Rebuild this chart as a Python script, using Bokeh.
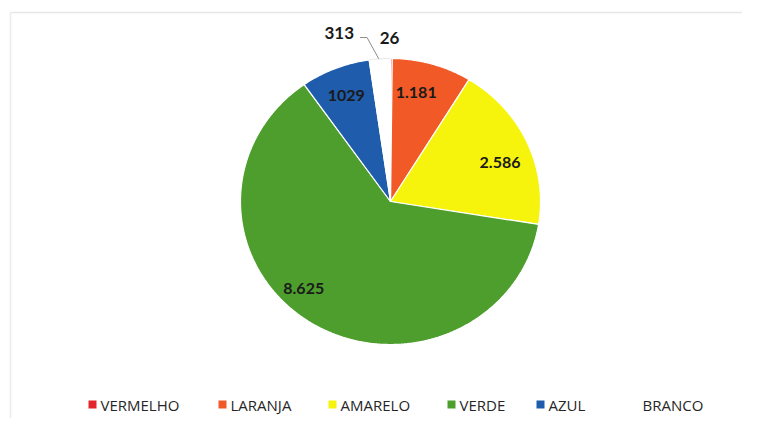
import numpy as np
from bokeh.plotting import figure
from bokeh.models import Range1d, ColumnDataSource
from bokeh.core.properties import value
from bokeh.embed import file_html
from bokeh.resources import INLINE

# ---- data ----
categories = ["VERMELHO", "LARANJA", "AMARELO", "VERDE", "AZUL", "BRANCO"]
counts = [26, 1181, 2586, 8625, 1029, 313]
count_labels = ["26", "1.181", "2.586", "8.625", "1029", "313"]
colors = ["#e3262b", "#f15a26", "#f6f30c", "#4d9e2c", "#1f5cab", "#ffffff"]

# ---- layout (page-pixel-like data space) ----
W, H = 742, 418
cx, cy = 390, 201          # pie centre
rx, ry = 150, 143          # pie radii (slightly elliptical as in the reference)
FONT = "Lato"
LFONT = "Open Sans"

p = figure(width=W, height=H, output_backend="svg", toolbar_location=None,
           x_range=Range1d(0, W), y_range=Range1d(H, 0),
           min_border=0, background_fill_color="#ffffff",
           border_fill_color="#ffffff")
p.axis.visible = False
p.grid.visible = False
p.outline_line_color = None

# faint chart-area frame (top and left edges visible in the reference)
p.line([10, W], [12, 12], line_color="#e6e6e6", line_width=1.5)
p.line([10, 10], [12, H], line_color="#ececec", line_width=1.5)

vals = np.array(counts, dtype=float)
frac = vals / vals.sum()
ends = np.cumsum(frac) * 2 * np.pi
starts = ends - frac * 2 * np.pi

xs, ys = [], []
for a0, a1 in zip(starts, ends):
    t = np.linspace(a0, a1, max(3, int((a1 - a0) / 0.01) + 2))
    xs.append([cx] + list(cx + rx * np.sin(t)) + [cx])
    ys.append([cy] + list(cy - ry * np.cos(t)) + [cy])

p.patches(xs, ys, fill_color=colors, line_color="#ffffff", line_width=1.2)
# faint outline of the white slice
wt = np.linspace(starts[5], ends[5], 20)
p.line(cx + rx * np.sin(wt), cy - ry * np.cos(wt), line_color="#e6e6e6", line_width=1)

# ---- data labels ----
mid = (starts + ends) / 2
inner_idx = [1, 2, 3, 4]
nudge = {1: -0.06, 2: 0.07, 3: 0.2, 4: 0.0}
rfac = {1: 0.78, 2: 0.78, 3: 0.84, 4: 0.8}
lx = [cx + rfac[i] * rx * np.sin(mid[i] + nudge[i]) for i in inner_idx]
ly = [cy - rfac[i] * ry * np.cos(mid[i] + nudge[i]) for i in inner_idx]
p.text(lx, ly, text=[count_labels[i] for i in inner_idx], text_align="center",
       text_baseline="middle", text_font=value(FONT), text_font_size="16px",
       text_font_style="bold", text_color="#1a1a1a")

# outside labels: red (tiny) and white slices
rx_red = cx + 1.14 * rx * np.sin(mid[0]) - 2
ry_red = cy - 1.14 * ry * np.cos(mid[0])
p.text([rx_red], [ry_red], text=[count_labels[0]], text_align="center",
       text_baseline="middle", text_font=value(FONT), text_font_size="17px",
       text_font_style="bold", text_color="#1a1a1a")

ex = cx + rx * np.sin(mid[5]); ey = cy - ry * np.cos(mid[5])
kx = cx + 1.07 * rx * np.sin(mid[5]) - 12; ky = cy - 1.15 * ry * np.cos(mid[5])
p.line([ex - 1, kx, kx - 7], [ey, ky, ky], line_color="#8c8c8c", line_width=1)
p.text([kx - 13], [ky - 4], text=[count_labels[5]], text_align="right",
       text_baseline="middle", text_font=value(FONT), text_font_size="17px",
       text_font_style="bold", text_color="#1a1a1a")

# ---- legend ----
leg_x = [92, 222, 332, 451, 540, 634]
leg_y = 404
src = ColumnDataSource(dict(x=leg_x, y=[leg_y] * 6, c=colors, t=categories))
p.rect("x", "y", width=8, height=8, fill_color="c", line_color=None, source=src)
p.text([x + 8 for x in leg_x], [leg_y + 0.5] * 6, text=categories,
       text_align="left", text_baseline="middle", text_font=value(LFONT),
       text_font_size="15px", text_color="#262626")

open("out.html", "w").write(file_html(p, INLINE))
